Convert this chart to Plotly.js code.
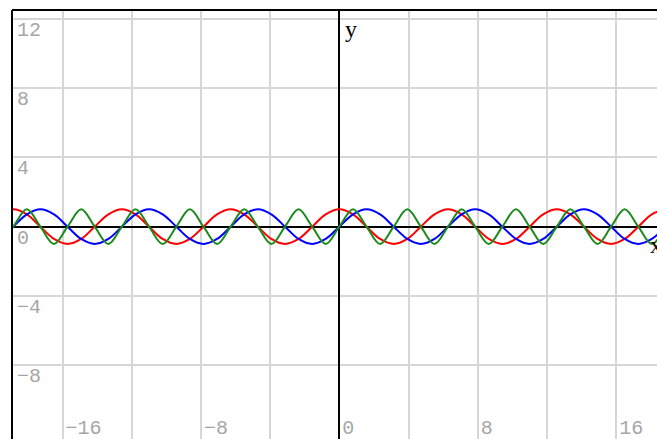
<!DOCTYPE html>
<html>
<head>
<meta charset="utf-8">
<script src="https://cdn.plot.ly/plotly-3.0.1.min.js"></script>
<style>html,body{margin:0;padding:0;background:#fff;}#chart{width:657px;height:439px;}</style>
</head>
<body>
<div id="chart"></div>
<script>
// sample positions read along the x axis
const xs = [-19.63,-18.85,-18.06,-17.28,-16.49,-15.71,-14.92,-14.14,-13.35,-12.57,
  -11.78,-11.00,-10.21,-9.42,-8.64,-7.85,-7.07,-6.28,-5.50,-4.71,
  -3.93,-3.14,-2.36,-1.57,-0.79,0,0.79,1.57,2.36,3.14,
  3.93,4.71,5.50,6.28,7.07,7.85,8.64,9.42,10.21,11.00,
  11.78,12.57,13.35,14.14,14.92,15.71,16.49,17.28,18.06,18.85];
// red curve
const redY = [0.71,1,0.71,0,-0.71,-1,-0.71,0, 0.71,1,0.71,0,-0.71,-1,-0.71,0,
  0.71,1,0.71,0,-0.71,-1,-0.71,0, 0.71,1,0.71,0,-0.71,-1,-0.71,0,
  0.71,1,0.71,0,-0.71,-1,-0.71,0, 0.71,1,0.71,0,-0.71,-1,-0.71,0, 0.71,1];
// blue curve
const blueY = [-0.71,0,0.71,1,0.71,0,-0.71,-1, -0.71,0,0.71,1,0.71,0,-0.71,-1,
  -0.71,0,0.71,1,0.71,0,-0.71,-1, -0.71,0,0.71,1,0.71,0,-0.71,-1,
  -0.71,0,0.71,1,0.71,0,-0.71,-1, -0.71,0,0.71,1,0.71,0,-0.71,-1, -0.71,0];
// green curve
const greenY = [-1,0,1,0, -1,0,1,0, -1,0,1,0, -1,0,1,0, -1,0,1,0, -1,0,1,0,
  -1,0,1,0, -1,0,1,0, -1,0,1,0, -1,0,1,0, -1,0,1,0, -1,0,1,0, -1,0];
const axisLabels = {x: 'x', y: 'y'};

const mk = (y, c) => ({x: xs, y: y, type: 'scatter', mode: 'lines',
  line: {color: c, width: 2, shape: 'spline'}, hoverinfo: 'skip'});
const traces = [mk(redY, '#ff0000'), mk(blueY, '#0000ff'), mk(greenY, '#1a8a1a')];

const tickFont = {family: '"Liberation Mono", "Courier New", monospace', size: 20, color: '#a6a6a6'};
const labFont = {family: '"Liberation Serif", "DejaVu Serif", serif', size: 24, color: '#000'};
const grid = '#d6d6d6';
const layout = {
  width: 657, height: 439,
  margin: {l: 12, r: 0, t: 10, b: 0, pad: 0},
  paper_bgcolor: '#fff', plot_bgcolor: '#fff',
  showlegend: false,
  xaxis: {range: [-18.92, 18.36], dtick: 8, tick0: 0, showgrid: true, gridcolor: grid, gridwidth: 2,
    minor: {dtick: 4, tick0: 0, showgrid: true, gridcolor: grid, gridwidth: 2},
    zeroline: true, zerolinecolor: '#000', zerolinewidth: 2, showline: false,
    ticks: '', ticklabelposition: 'inside right', ticklabelstandoff: -5, ticklabelshift: 3,
    tickfont: tickFont, fixedrange: true},
  yaxis: {range: [-12.25, 12.5], dtick: 4, tick0: 0, showgrid: true, gridcolor: grid, gridwidth: 2,
    zeroline: true, zerolinecolor: '#000', zerolinewidth: 2, showline: false,
    ticks: '', ticklabelposition: 'inside bottom', ticklabelshift: -4, ticklabelstandoff: 2,
    tickfont: tickFont, fixedrange: true},
  shapes: [
    {type: 'line', xref: 'paper', yref: 'paper', x0: 0, x1: 0, y0: 0, y1: 1, line: {color: '#000', width: 2}},
    {type: 'line', xref: 'paper', yref: 'paper', x0: 0, x1: 1, y0: 1, y1: 1, line: {color: '#000', width: 2}}
  ],
  annotations: [
    {x: 0, y: 12.5, xref: 'x', yref: 'y', text: axisLabels.y, showarrow: false, xanchor: 'left', yanchor: 'top',
      xshift: 4, yshift: -4, font: labFont},
    {x: 17.84, y: 0, xref: 'x', yref: 'y', text: axisLabels.x, showarrow: false, xanchor: 'left', yanchor: 'top',
      xshift: 0, yshift: -3, font: labFont}
  ]
};
Plotly.newPlot('chart', traces, layout, {displayModeBar: false, staticPlot: true});
</script>
</body>
</html>
